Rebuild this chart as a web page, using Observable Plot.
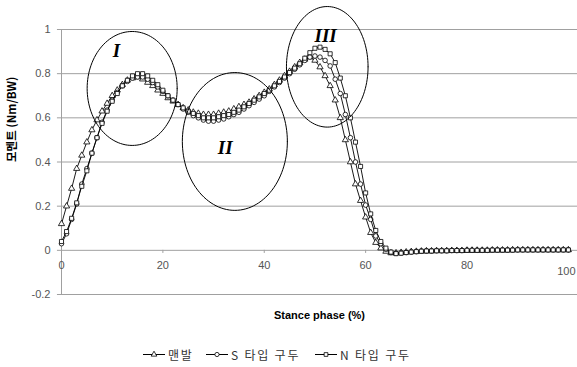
<!DOCTYPE html>
<html><head><meta charset="utf-8">
<script src="https://cdn.jsdelivr.net/npm/d3@7"></script>
<script src="https://cdn.jsdelivr.net/npm/@observablehq/plot@0.6"></script>
<style>
body{margin:0;background:#fff;width:577px;height:367px;overflow:hidden;position:relative;font-family:"Liberation Sans",Arial,sans-serif}
#chart{position:absolute;left:0;top:0}
#legend{position:absolute;top:346px;left:0;height:16px;width:577px}
.item{position:absolute;top:0;height:16px;display:flex;align-items:center;font-family:"Noto Sans CJK KR",sans-serif;font-size:12px;color:#333;letter-spacing:1.8px;white-space:pre}
.item svg{margin-right:3px}
</style></head><body>
<div id="chart"></div>
<div id="legend"></div>
<script>
const seriesNames = ["맨발", "S 타입 구두", "N 타입 구두"];
const seriesSymbols = ["triangle", "circle", "square"];

const barefoot = [
  0.12, 0.20, 0.28, 0.37, 0.43, 0.49, 0.545, 0.59, 0.63, 0.665,
  0.70, 0.725, 0.75, 0.77, 0.78, 0.785, 0.775, 0.76, 0.745, 0.725,
  0.71, 0.69, 0.675, 0.66, 0.645, 0.635, 0.625, 0.62, 0.615, 0.615,
  0.615, 0.62, 0.625, 0.63, 0.64, 0.65, 0.66, 0.67, 0.685, 0.70,
  0.715, 0.73, 0.75, 0.77, 0.79, 0.81, 0.83, 0.85, 0.865, 0.875,
  0.86, 0.83, 0.79, 0.745, 0.68, 0.60, 0.50, 0.40, 0.30, 0.225,
  0.15, 0.08, 0.035, 0.01, -0.005, -0.012, -0.012, -0.01, -0.008, -0.006,
  -0.005, -0.004, -0.003, -0.003, -0.002, -0.002, -0.002, -0.001, -0.001, -0.001,
  0, 0, 0, 0, 0, 0.001, 0.001, 0.001, 0.001, 0.002,
  0.002, 0.002, 0.002, 0.002, 0.002, 0.002, 0.002, 0.002, 0.002, 0.002, 0.002
];
const sShoe = [
  0.03, 0.075, 0.14, 0.21, 0.30, 0.37, 0.44, 0.51, 0.58, 0.635,
  0.68, 0.715, 0.745, 0.765, 0.78, 0.785, 0.785, 0.775, 0.76, 0.74,
  0.72, 0.70, 0.68, 0.66, 0.64, 0.625, 0.61, 0.60, 0.59, 0.585,
  0.585, 0.59, 0.595, 0.605, 0.615, 0.625, 0.64, 0.655, 0.67, 0.685,
  0.70, 0.72, 0.74, 0.76, 0.78, 0.80, 0.82, 0.84, 0.86, 0.875,
  0.88, 0.875, 0.86, 0.835, 0.775, 0.71, 0.615, 0.51, 0.40, 0.30,
  0.205, 0.14, 0.065, 0.03, 0.005, -0.01, -0.014, -0.012, -0.01, -0.008,
  -0.006, -0.004, -0.003, -0.003, -0.002, -0.002, -0.002, -0.001, -0.001, -0.001,
  0, 0, 0, 0, 0, 0.001, 0.001, 0.001, 0.001, 0.001,
  0.002, 0.002, 0.002, 0.002, 0.002, 0.002, 0.002, 0.002, 0.002, 0.002, 0.002
];
const nShoe = [
  0.04, 0.085, 0.145, 0.215, 0.29, 0.36, 0.44, 0.51, 0.575, 0.63,
  0.675, 0.71, 0.745, 0.77, 0.79, 0.80, 0.80, 0.79, 0.77, 0.75,
  0.725, 0.70, 0.68, 0.66, 0.645, 0.63, 0.62, 0.61, 0.60, 0.60,
  0.60, 0.605, 0.61, 0.615, 0.625, 0.635, 0.65, 0.665, 0.68, 0.695,
  0.71, 0.725, 0.745, 0.765, 0.785, 0.805, 0.825, 0.845, 0.87, 0.895,
  0.915, 0.92, 0.91, 0.89, 0.85, 0.78, 0.70, 0.60, 0.49, 0.38,
  0.26, 0.165, 0.09, 0.04, 0.01, -0.008, -0.015, -0.013, -0.01, -0.008,
  -0.006, -0.004, -0.003, -0.003, -0.002, -0.002, -0.002, -0.001, -0.001, -0.001,
  0, 0, 0, 0, 0, 0.001, 0.001, 0.001, 0.001, 0.001,
  0.002, 0.002, 0.002, 0.002, 0.002, 0.002, 0.002, 0.002, 0.002, 0.002, 0.002
];

const xTicks = [0, 20, 40, 60, 80, 100];
const xTickLabels = ["0", "20", "40", "60", "80", "100"];
const yTicks = [-0.2, 0, 0.2, 0.4, 0.6, 0.8, 1];
const yTickLabels = ["-0.2", "0", "0.2", "0.4", "0.6", "0.8", "1"];

const regionLabels = ["I", "II", "III"];
const regionCx = [13.94, 34.2, 52.43];
const regionCy = [0.733, 0.493, 0.831];
const regionRx = [8.88, 10.36, 8.05];
const regionRy = [0.258, 0.312, 0.273];
const regionLabelX = [10.85, 32.3, 52.1];
const regionLabelY = [0.905, 0.464, 0.971];

const xTitle = "Stance phase (%)";
const yTitle = "모멘트 (Nm/BW)";

const allSeries = [barefoot, sShoe, nShoe];
const rows = [];
allSeries.forEach((vals, s) => vals.forEach((v, i) => rows.push({x: i, y: v, series: seriesNames[s]})));

const ellipsePts = [];
regionLabels.forEach((lab, k) => {
  for (let a = 0; a <= 120; a++) {
    const t = a / 120 * 2 * Math.PI;
    ellipsePts.push({label: lab, x: regionCx[k] + regionRx[k] * Math.cos(t), y: regionCy[k] + regionRy[k] * Math.sin(t)});
  }
});

const seriesMarks = [];
seriesNames.forEach((name) => {
  const d = rows.filter(r => r.series === name);
  seriesMarks.push(Plot.line(d, {x: "x", y: "y", stroke: "#000", strokeWidth: 0.9}));
  seriesMarks.push(Plot.dot(d, {x: "x", y: "y", symbol: "series", r: 2.3, fill: "#fff", stroke: "#000", strokeWidth: 0.8}));
});

const chart = Plot.plot({
  width: 577, height: 335,
  marginLeft: 61, marginRight: 0, marginTop: 29, marginBottom: 41,
  x: {domain: [0, 101.8], axis: null},
  y: {domain: [-0.2, 1], axis: null},
  symbol: {domain: seriesNames, range: seriesSymbols},
  style: {fontFamily: "Liberation Sans, Arial, sans-serif", fontSize: "11px", color: "#000", background: "#fff", overflow: "visible"},
  marks: [
    Plot.ruleY(yTicks, {y: d => d, x1: -0.8, x2: 101.8, stroke: "#a0a0a0", strokeWidth: 1}),
    Plot.ruleX([0], {y1: -0.2, y2: 1, stroke: "#a0a0a0", strokeWidth: 1}),
    Plot.ruleX(xTicks.slice(1), {x: d => d, y1: 0, y2: -0.014, stroke: "#a0a0a0"}),
    Plot.text(yTicks, {x: 0, y: d => d, text: (d, i) => yTickLabels[i], textAnchor: "end", dx: -11, fill: "#555", fontSize: 11}),
    Plot.text(xTicks.slice(0, 5), {x: d => d, y: 0, text: (d, i) => xTickLabels[i], dy: 15, fill: "#555", fontSize: 11}),
    Plot.text(xTicks.slice(5), {x: d => d, y: 0, text: () => xTickLabels[5], dy: 21, dx: -2, fill: "#555", fontSize: 11}),
    ...seriesMarks,
    Plot.line(ellipsePts, {x: "x", y: "y", z: "label", stroke: "#000", strokeWidth: 1}),
    Plot.text(regionLabels, {x: (d, i) => regionLabelX[i], y: (d, i) => regionLabelY[i], text: d => d, fontFamily: "Liberation Serif, serif", fontStyle: "italic", fontWeight: "bold", fontSize: 19, fill: "#000"}),
    Plot.text([xTitle], {frameAnchor: "bottom", dy: 24, text: d => d, fontWeight: "bold", fontSize: 11, fill: "#000"}),
    Plot.text([yTitle], {frameAnchor: "left", dx: -49, rotate: -90, text: d => d, fontWeight: "bold", fontSize: 11.5, fontFamily: "Noto Sans CJK KR, sans-serif", fill: "#000"})
  ]
});
document.getElementById("chart").appendChild(chart);

// legend
const legendLefts = [143, 206, 315];
const legend = document.getElementById("legend");
seriesNames.forEach((name, i) => {
  const div = document.createElement("div");
  div.className = "item";
  div.style.left = legendLefts[i] + "px";
  const sym = d3.symbol(i === 0 ? d3.symbolTriangle : i === 1 ? d3.symbolCircle : d3.symbolSquare, 14)();
  div.innerHTML = `<svg width="22" height="12"><line x1="0" x2="22" y1="6.5" y2="6.5" stroke="#000" stroke-width="1"/><path d="${sym}" transform="translate(11,6.5)" fill="#fff" stroke="#000" stroke-width="0.8"/></svg><span>${name}</span>`;
  legend.appendChild(div);
});
</script>
</body></html>
